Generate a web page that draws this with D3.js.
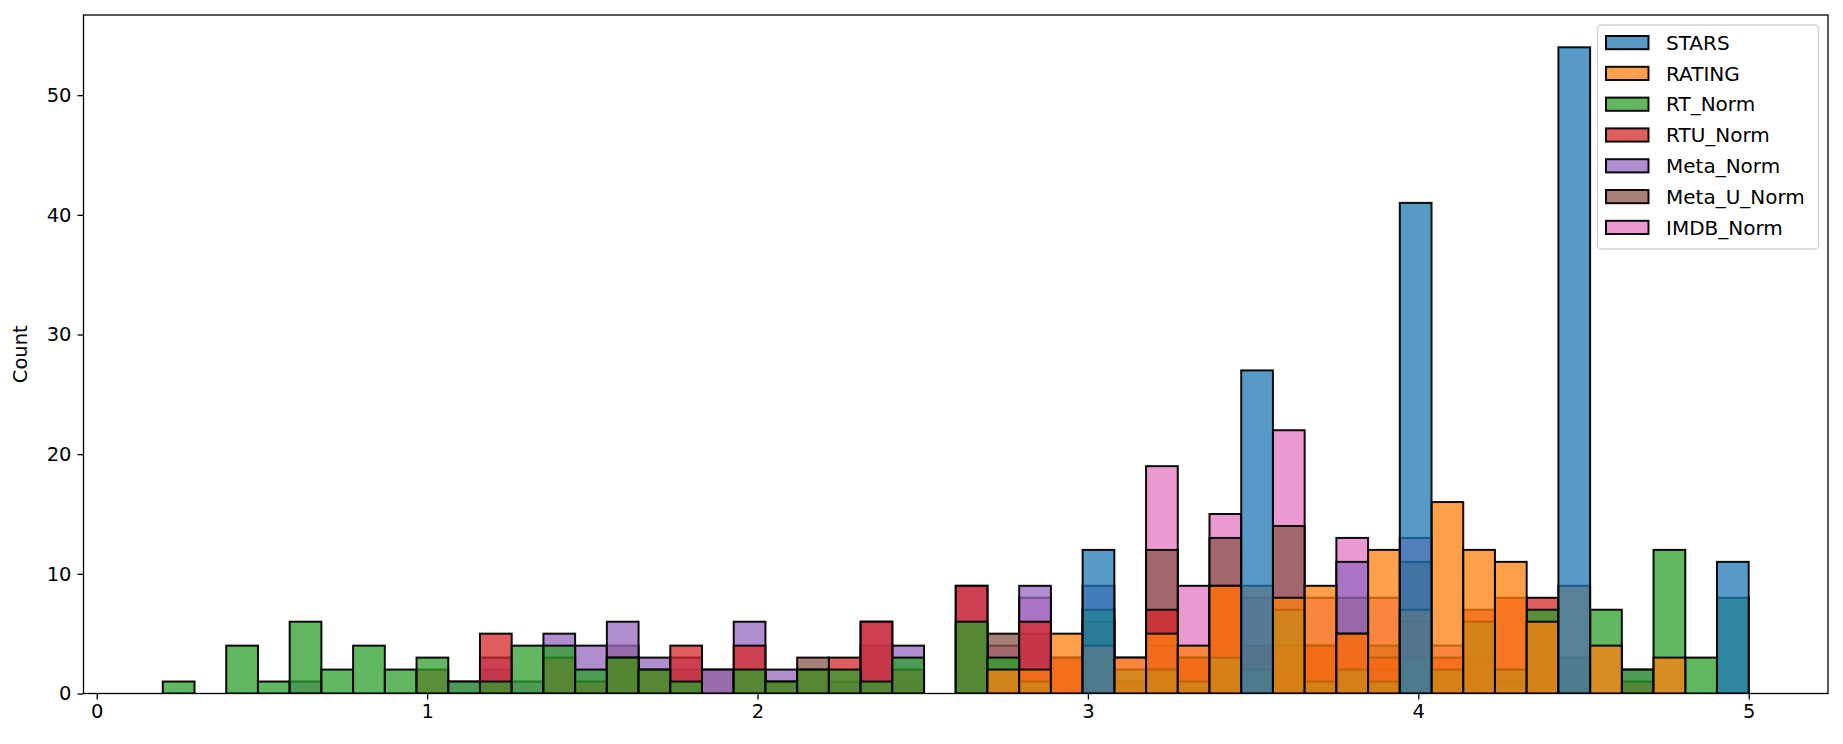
<!DOCTYPE html>
<html>
<head>
<meta charset="utf-8">
<script src="https://cdn.jsdelivr.net/npm/d3@7"></script>
<style>
  body { margin: 0; background: #ffffff; }
  svg { display: block; }
  text { font-family: "DejaVu Sans", sans-serif; fill: #000; }
</style>
</head>
<body>
<svg id="chart" width="1843" height="744"></svg>
<script>
// ---- Data ----
const binEdges = [0.2, 0.296, 0.392, 0.488, 0.584, 0.68, 0.776, 0.872, 0.968, 1.064,
  1.16, 1.256, 1.352, 1.448, 1.544, 1.64, 1.736, 1.832, 1.928, 2.024,
  2.12, 2.216, 2.312, 2.408, 2.504, 2.6, 2.696, 2.792, 2.888, 2.984,
  3.08, 3.176, 3.272, 3.368, 3.464, 3.56, 3.656, 3.752, 3.848, 3.944,
  4.04, 4.136, 4.232, 4.328, 4.424, 4.52, 4.616, 4.712, 4.808, 4.904, 5.0];

const seriesNames = ["STARS", "RATING", "RT_Norm", "RTU_Norm", "Meta_Norm", "Meta_U_Norm", "IMDB_Norm"];

const STARS = [0,0,0,0,0,0,0,0,0,0, 0,0,0,0,0,0,0,0,0,0, 0,0,0,0,0,0,0,0,0,12,
  0,0,0,0,27,0,0,0,0,41, 0,0,0,0,54,0,0,0,0,11];
const RATING = [0,0,0,0,0,0,0,0,0,0, 0,0,0,0,0,0,0,0,0,0, 0,0,0,0,0,0,2,2,5,4,
  3,5,4,9,9,8,9,5,12,7, 16,12,11,6,9,4,0,3,0,0];
const RT_Norm = [1,0,4,1,6,2,4,2,3,1, 1,4,4,2,3,2,1,0,2,1, 2,2,1,3,0,6,3,1,0,7,
  2,2,1,3,2,7,1,2,1,3, 2,6,2,7,3,7,2,12,3,8];
const RTU_Norm = [0,0,0,0,0,0,0,0,2,0, 5,0,3,1,3,2,4,0,4,1, 2,3,6,2,0,9,0,6,3,6,
  1,7,3,9,4,4,4,5,3,6, 3,7,8,8,0,0,1,0,0,0];
const Meta_Norm = [0,0,0,0,1,0,0,0,0,1, 3,1,5,4,6,3,3,2,6,2, 0,1,6,4,0,9,0,9,0,9,
  1,4,0,0,0,0,0,11,2,5, 0,0,1,0,0,0,2,0,0,0];
const Meta_U_Norm = [0,0,0,0,0,0,0,0,0,0, 2,0,0,0,4,0,2,2,0,0, 3,0,4,1,0,0,5,5,3,0,
  0,12,3,13,4,14,4,8,4,11, 0,0,0,0,0,0,0,0,0,0];
const IMDB_Norm = [0,0,0,0,0,0,0,0,0,0, 0,0,0,0,0,0,0,0,0,0, 0,0,0,0,0,0,4,8,0,6,
  3,19,9,15,8,22,8,13,8,13, 4,3,2,0,0,0,0,0,0,0];

const seriesColors = ["#1f77b4", "#ff7f0e", "#2ca02c", "#d62728", "#9467bd", "#8c564b", "#e377c2"];
const xTicks = [0, 1, 2, 3, 4, 5];
const yTicks = [0, 10, 20, 30, 40, 50];
const yLabel = "Count";

const seriesValues = [STARS, RATING, RT_Norm, RTU_Norm, Meta_Norm, Meta_U_Norm, IMDB_Norm];

// ---- Layout ----
const W = 1843, H = 744;
const plot = { left: 83.5, right: 1828, top: 15, bottom: 693.5 };
const FS = 19.5;
const LFS = 20;

const svg = d3.select("#chart");
svg.append("rect").attr("width", W).attr("height", H).attr("fill", "#fff");

const x = d3.scaleLinear().domain([-0.04, 5.24]).range([plot.left, plot.right]);
const y = d3.scaleLinear().domain([0, 56.7]).range([plot.bottom, plot.top]);

svg.append("defs").append("clipPath").attr("id", "clip")
  .append("rect").attr("x", plot.left).attr("y", plot.top)
  .attr("width", plot.right - plot.left).attr("height", plot.bottom - plot.top);

const barsG = svg.append("g").attr("clip-path", "url(#clip)");

// seaborn draws hue levels in reverse: last level first
const order = d3.range(seriesNames.length).reverse();
order.forEach(si => {
  const vals = seriesValues[si];
  const bins = vals.map((v, k) => ({ v, x0: binEdges[k], x1: binEdges[k + 1] })).filter(d => d.v > 0);
  barsG.append("g").selectAll("rect").data(bins).join("rect")
    .attr("x", d => x(d.x0))
    .attr("width", d => x(d.x1) - x(d.x0))
    .attr("y", d => y(d.v))
    .attr("height", d => y(0) - y(d.v))
    .attr("fill", seriesColors[si])
    .attr("fill-opacity", 0.75)
    .attr("stroke", "#000")
    .attr("stroke-opacity", 0.95)
    .attr("stroke-width", 2);
});

// ---- Axes ----
const xAxis = d3.axisBottom(x).tickValues(xTicks).tickFormat(d3.format("d")).tickSize(6).tickPadding(5);
const gx = svg.append("g").attr("transform", `translate(0,${plot.bottom})`).call(xAxis);
gx.select(".domain").remove();
gx.selectAll("line").attr("stroke", "#000").attr("stroke-width", 1.3);
gx.selectAll("text").attr("font-size", FS).attr("font-family", "DejaVu Sans").attr("fill", "#000");

const yAxis = d3.axisLeft(y).tickValues(yTicks).tickFormat(d3.format("d")).tickSize(6).tickPadding(6);
const gy = svg.append("g").attr("transform", `translate(${plot.left},0)`).call(yAxis);
gy.select(".domain").remove();
gy.selectAll("line").attr("stroke", "#000").attr("stroke-width", 1.3);
gy.selectAll("text").attr("font-size", FS).attr("font-family", "DejaVu Sans").attr("fill", "#000");

// spines
svg.append("rect")
  .attr("x", plot.left).attr("y", plot.top)
  .attr("width", plot.right - plot.left).attr("height", plot.bottom - plot.top)
  .attr("fill", "none").attr("stroke", "#000").attr("stroke-width", 1.3);

// y label
svg.append("text")
  .attr("transform", `translate(27,${(plot.top + plot.bottom) / 2}) rotate(-90)`)
  .attr("text-anchor", "middle")
  .attr("font-size", FS)
  .text(yLabel);

// ---- Legend ----
const lg = svg.append("g");
lg.append("rect")
  .attr("x", 1597.5).attr("y", 25).attr("width", 221).attr("height", 224)
  .attr("rx", 4).attr("ry", 4)
  .attr("fill", "#fff").attr("fill-opacity", 0.8)
  .attr("stroke", "#d0d0d0").attr("stroke-width", 1.3);
seriesNames.forEach((name, i) => {
  const cy = 42.6 + i * 30.8;
  lg.append("rect")
    .attr("x", 1606).attr("y", cy - 6.6).attr("width", 42.5).attr("height", 13.2)
    .attr("fill", seriesColors[i]).attr("fill-opacity", 0.75)
    .attr("stroke", "#000").attr("stroke-opacity", 0.95).attr("stroke-width", 2);
  lg.append("text")
    .attr("x", 1666).attr("y", cy + 7.2)
    .attr("font-size", LFS)
    .text(name);
});
</script>
</body>
</html>
